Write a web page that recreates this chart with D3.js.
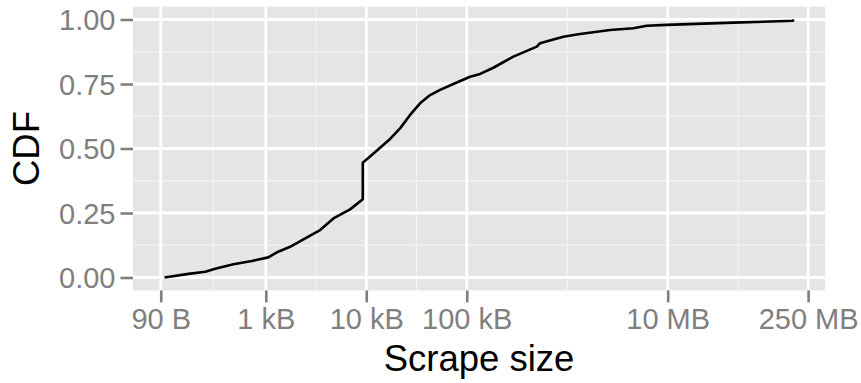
<!DOCTYPE html>
<html>
<head>
<meta charset="utf-8">
<script src="https://cdn.jsdelivr.net/npm/d3@7"></script>
<style>
  html, body { margin: 0; padding: 0; background: #ffffff; }
  svg { display: block; font-family: "Liberation Sans", Arial, Helvetica, sans-serif; }
</style>
</head>
<body>
<svg id="chart" width="861" height="383"></svg>
<script>
// Scrape sizes in bytes and the cumulative share of scrapes at or below each size
const sizes = [
  98, 170, 250, 313, 476, 726, 1060, 1190, 1330, 1745, 2370, 3470, 4710, 6900,
  9230, 9230, 11350, 17260, 21700, 27300, 34300, 43200, 54300, 73600, 108000,
  136000, 184000, 291000, 498000, 536000, 914000, 1340000, 2670000, 4550000,
  6180000, 9770000, 45000000, 153000000, 176000000, 179000000
];
const cdf = [
  0.0, 0.014, 0.022, 0.034, 0.051, 0.064, 0.078, 0.090, 0.100, 0.119, 0.148, 0.184, 0.229, 0.264,
  0.303, 0.445, 0.475, 0.537, 0.578, 0.630, 0.675, 0.707, 0.727, 0.750, 0.778,
  0.789, 0.813, 0.856, 0.895, 0.908, 0.933, 0.944, 0.959, 0.966,
  0.976, 0.979, 0.988, 0.994, 0.995, 1.0
];

// Axis breaks
const xBreaks = [90, 1e3, 1e4, 1e5, 1e7, 2.5e8];
const xLabels = ["90 B", "1 kB", "10 kB", "100 kB", "10 MB", "250 MB"];
const yBreaks = [0, 0.25, 0.5, 0.75, 1];
const yLabels = ["0.00", "0.25", "0.50", "0.75", "1.00"];

const data = sizes.map((s, i) => ({ size: s, p: cdf[i] }));

const panel = { left: 133, right: 825, top: 6.6, bottom: 290.4 };

// log-x with 5% padding on each side of the data extent
const lx = d3.extent(sizes).map(Math.log10);
const padX = (lx[1] - lx[0]) * 0.05;
const x = d3.scaleLog()
  .domain([Math.pow(10, lx[0] - padX), Math.pow(10, lx[1] + padX)])
  .range([panel.left, panel.right]);

const y = d3.scaleLinear()
  .domain([-0.05, 1.05])
  .range([panel.bottom, panel.top]);

const svg = d3.select("#chart");

svg.append("rect")
  .attr("x", panel.left).attr("y", panel.top)
  .attr("width", panel.right - panel.left)
  .attr("height", panel.bottom - panel.top)
  .attr("fill", "#e5e5e5");

// minor breaks sit halfway between major breaks (in log space for x)
const xLog = xBreaks.map(Math.log10);
const xMinor = d3.pairs(xLog).map(([a, b]) => Math.pow(10, (a + b) / 2));
const yMinor = d3.pairs(yBreaks).map(([a, b]) => (a + b) / 2);

const grid = svg.append("g");
grid.selectAll("line.ymin").data(yMinor).join("line")
  .attr("x1", panel.left).attr("x2", panel.right)
  .attr("y1", d => y(d)).attr("y2", d => y(d))
  .attr("stroke", "#f2f2f2").attr("stroke-width", 1.3);
grid.selectAll("line.xmin").data(xMinor).join("line")
  .attr("y1", panel.top).attr("y2", panel.bottom)
  .attr("x1", d => x(d)).attr("x2", d => x(d))
  .attr("stroke", "#f2f2f2").attr("stroke-width", 1.3);
grid.selectAll("line.ymaj").data(yBreaks).join("line")
  .attr("x1", panel.left).attr("x2", panel.right)
  .attr("y1", d => y(d)).attr("y2", d => y(d))
  .attr("stroke", "#ffffff").attr("stroke-width", 2.8);
grid.selectAll("line.xmaj").data(xBreaks).join("line")
  .attr("y1", panel.top).attr("y2", panel.bottom)
  .attr("x1", d => x(d)).attr("x2", d => x(d))
  .attr("stroke", "#ffffff").attr("stroke-width", 2.8);

// CDF curve
const line = d3.line().x(d => x(d.size)).y(d => y(d.p));
svg.append("path")
  .datum(data)
  .attr("d", line)
  .attr("fill", "none")
  .attr("stroke", "#000000")
  .attr("stroke-width", 2.6)
  .attr("stroke-linejoin", "round");

// Axes
const xAxis = d3.axisBottom(x)
  .tickValues(xBreaks)
  .tickFormat((d, i) => xLabels[i])
  .tickSize(12).tickPadding(6);
const gx = svg.append("g")
  .attr("transform", `translate(0,${panel.bottom})`)
  .call(xAxis);

const yAxis = d3.axisLeft(y)
  .tickValues(yBreaks)
  .tickFormat((d, i) => yLabels[i])
  .tickSize(12.5).tickPadding(5);
const gy = svg.append("g")
  .attr("transform", `translate(${panel.left},0)`)
  .call(yAxis);

[gx, gy].forEach(g => {
  g.select(".domain").remove();
  g.selectAll(".tick line").attr("stroke", "#7f7f7f").attr("stroke-width", 2.6);
  g.selectAll(".tick text")
    .attr("fill", "#7f7f7f")
    .style("font-size", "29px")
    .style("font-family", "'Liberation Sans', Arial, Helvetica, sans-serif");
});
gx.selectAll(".tick text").attr("dy", "0.71em");
gy.selectAll(".tick text").attr("dy", "0.36em");

// Axis titles
svg.append("text")
  .attr("x", (panel.left + panel.right) / 2)
  .attr("y", 371)
  .attr("text-anchor", "middle")
  .style("font-size", "36.5px")
  .attr("fill", "#000")
  .text("Scrape size");

svg.append("text")
  .attr("transform", `translate(39,${(panel.top + panel.bottom) / 2}) rotate(-90)`)
  .attr("text-anchor", "middle")
  .style("font-size", "36.5px")
  .attr("fill", "#000")
  .text("CDF");
</script>
</body>
</html>
